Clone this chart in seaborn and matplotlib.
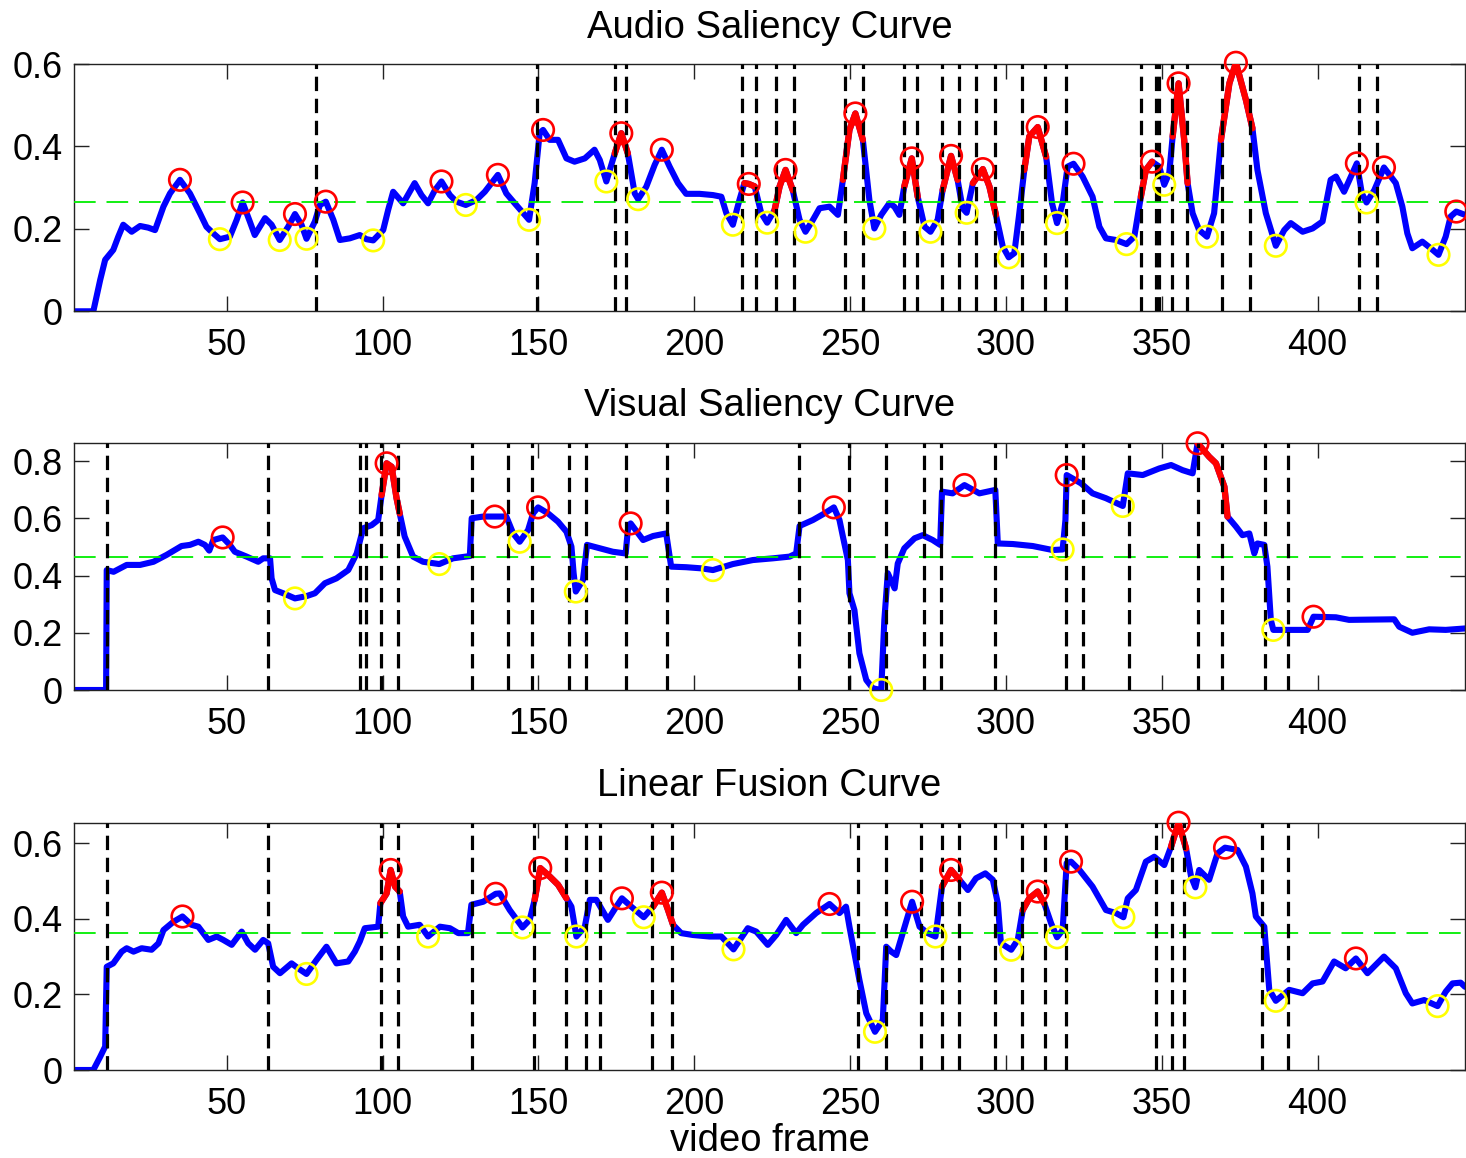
import numpy as np
import pandas as pd
import matplotlib
matplotlib.use("Agg")
import matplotlib.pyplot as plt
import seaborn as sns

# ---------------- data ----------------
titles = ["Audio Saliency Curve", "Visual Saliency Curve", "Linear Fusion Curve"]
xlabel = "video frame"
xticks = [50, 100, 150, 200, 250, 300, 350, 400]

# Audio saliency curve vertices
audio_x = [1, 7.2, 9.4, 11, 13.6, 15.2, 16.8, 19.5, 22.2, 24.8, 27, 29.7, 31.8, 35, 38.2, 41.4, 43.5, 45.7, 47.8,
           51, 53.2, 55.1, 57.4, 59, 62.3, 64.4, 67, 69.7, 71.9, 74, 75.6, 78.3, 79.9, 81.8, 84.2, 86.3, 89.5, 92.7,
           94.8, 97, 100.2, 101.8, 103.4, 106.6, 110.3, 112.5, 114.6, 116.8, 118.9, 121.6, 123.7, 126.7, 130.1, 132.8,
           137, 139.7, 142.4, 147, 148.8, 150.4, 151.5, 153.6, 156.3, 159, 161.6, 164.9, 168, 169.7, 171.8, 174.5,
           176.6, 178.7, 180.9, 182, 184.6, 187.3, 189.6, 192.1, 194.8, 197.4, 201.7, 206, 208.7, 210.3, 212.4, 214.5,
           216.1, 217.5, 219.4, 221.5, 223.4, 225.8, 227.4, 229.3, 231.6, 233.8, 235.7, 238.1, 240.2, 243.4, 246.1,
           247.7, 249.8, 251.7, 254.1, 256.2, 257.8, 260, 262.6, 264.2, 265.8, 267.4, 269.8, 271.7, 273.9, 275.8,
           278.1, 279.7, 282.4, 284.5, 286.1, 287.4, 289.4, 292.6, 294.7, 296.8, 299, 300.9, 302.7, 304.3, 305.9,
           307.5, 310.2, 312.9, 314.8, 316.4, 318.2, 319.8, 321.7, 324.6, 327.8, 330, 332.1, 335.3, 338.7, 341.2,
           343.3, 344.9, 346.9, 349.2, 350.8, 352.4, 353.5, 355.4, 357.2, 358.3, 359.9, 362, 364.5, 366.8, 369,
           371.7, 373.8, 377, 379.1, 380.7, 383.4, 386.6, 389.3, 391.4, 395.2, 398.4, 401.6, 404.2, 405.9, 408.5,
           410.7, 412.6, 414.2, 415.7, 418.2, 421.3, 425.1, 427.2, 428.8, 430.4, 433.6, 436.3, 438.8, 441.1, 442.7,
           444.5, 447.3]
audio_y = [0, 0, 0.076, 0.125, 0.149, 0.181, 0.21, 0.193, 0.207, 0.203, 0.197, 0.254, 0.286, 0.319, 0.286, 0.238,
           0.205, 0.189, 0.175, 0.181, 0.222, 0.264, 0.218, 0.185, 0.226, 0.21, 0.173, 0.205, 0.236, 0.21, 0.176,
           0.218, 0.258, 0.266, 0.222, 0.173, 0.177, 0.185, 0.175, 0.172, 0.197, 0.246, 0.29, 0.262, 0.311, 0.282,
           0.262, 0.294, 0.315, 0.282, 0.266, 0.258, 0.27, 0.29, 0.331, 0.286, 0.262, 0.222, 0.311, 0.432, 0.44,
           0.416, 0.416, 0.371, 0.363, 0.371, 0.392, 0.367, 0.315, 0.383, 0.432, 0.383, 0.286, 0.272, 0.302, 0.355,
           0.392, 0.351, 0.311, 0.285, 0.285, 0.282, 0.278, 0.238, 0.21, 0.27, 0.311, 0.309, 0.303, 0.238, 0.215,
           0.246, 0.303, 0.343, 0.294, 0.222, 0.193, 0.222, 0.25, 0.254, 0.234, 0.319, 0.44, 0.48, 0.416, 0.27,
           0.201, 0.234, 0.262, 0.254, 0.234, 0.303, 0.371, 0.278, 0.205, 0.193, 0.222, 0.294, 0.377, 0.319, 0.25,
           0.239, 0.311, 0.345, 0.303, 0.234, 0.157, 0.131, 0.141, 0.238, 0.343, 0.424, 0.447, 0.375, 0.262, 0.214,
           0.262, 0.351, 0.358, 0.327, 0.278, 0.205, 0.177, 0.173, 0.163, 0.181, 0.278, 0.343, 0.363, 0.351, 0.307,
           0.335, 0.424, 0.553, 0.416, 0.311, 0.238, 0.197, 0.181, 0.238, 0.416, 0.553, 0.603, 0.513, 0.444, 0.343,
           0.238, 0.159, 0.197, 0.214, 0.193, 0.201, 0.218, 0.319, 0.327, 0.29, 0.327, 0.359, 0.286, 0.264, 0.294,
           0.349, 0.311, 0.254, 0.189, 0.153, 0.169, 0.153, 0.137, 0.181, 0.23, 0.242, 0.234]
audio_peak_x = [35, 55.1, 71.9, 81.8, 118.9, 137, 151.5, 176.6, 189.6, 217.5, 229.3, 251.7, 269.8, 282.4, 292.6,
                310.2, 321.7, 346.9, 355.4, 373.8, 412.6, 421.3, 444.5]
audio_peak_y = [0.319, 0.264, 0.236, 0.266, 0.315, 0.331, 0.44, 0.432, 0.392, 0.309, 0.343, 0.48, 0.371, 0.377,
                0.345, 0.447, 0.358, 0.363, 0.553, 0.603, 0.359, 0.349, 0.242]
audio_valley_x = [47.8, 67, 75.6, 97, 126.7, 147, 171.8, 182, 212.4, 223.4, 235.7, 257.8, 275.8, 287.4, 300.9,
                  316.4, 338.7, 350.8, 364.5, 386.6, 415.7, 438.8]
audio_valley_y = [0.175, 0.173, 0.176, 0.172, 0.258, 0.222, 0.315, 0.272, 0.21, 0.215, 0.193, 0.201, 0.193, 0.239,
                  0.131, 0.214, 0.163, 0.307, 0.181, 0.159, 0.264, 0.137]
audio_red_start = [174.5, 216.1, 225.8, 247.7, 267.4, 279.7, 289.4, 305.9, 343.3, 353.5, 369]
audio_red_end = [178.7, 219.4, 231.6, 254.1, 271.7, 284.5, 296.8, 312.9, 347.5, 358.3, 379.1]
audio_shots = [78.8, 149.6, 174.5, 178.2, 215.4, 219.7, 226.3, 231.9, 248.5, 254.3, 267.4, 271.5, 279.4, 284.8,
               290.4, 296.6, 305.2, 312.6, 319.3, 343.3, 348.1, 349.2, 353.3, 358.1, 369.2, 378.3, 413.3, 419.2]
audio_threshold = 0.265

# Visual saliency curve vertices
visual_x = [1, 11.3, 11.5, 13.7, 17.9, 22.2, 26.5, 30.7, 35.5, 38.2, 40.9, 43, 44.4, 45.7, 48.7, 51, 52.6, 56.4,
            60.1, 61.7, 63.9, 64.4, 65.5, 68.1, 71.9, 75.6, 78.3, 81.5, 85.2, 89, 91.7, 93.8, 96.5, 98.6, 99.7,
            101.3, 102.9, 104.5, 105.5, 107.1, 109.8, 113, 118.2, 122.6, 128, 128.6, 132.3, 136, 139.7, 141.9, 144,
            146.7, 148.3, 149.9, 153.1, 156.3, 159, 160.6, 161.3, 162, 164.3, 165.6, 169.7, 173.9, 178, 178.7, 179.6,
            183.6, 186.8, 191, 192.6, 197.4, 202.3, 206, 212.4, 218.8, 225.2, 230.6, 232.7, 233.8, 238.1, 241.8,
            244.8, 246.6, 247.7, 249.3, 249.8, 251.4, 253, 255.2, 257.3, 260, 261, 262.1, 264.3, 265.3, 267.4, 270.7,
            273.3, 276.5, 278.9, 279.5, 282.9, 286.7, 291.5, 296.6, 297.4, 302.2, 308.6, 315, 318.2, 319.1, 319.5,
            324.1, 327.8, 332.1, 337.5, 339.1, 343.9, 349.2, 353, 356.7, 359.9, 361.5, 365.2, 367.4, 370.1, 371.1,
            373.8, 375.9, 378.1, 379.7, 380.7, 382.9, 383.9, 385, 385.8, 389.8, 396.8, 398.7, 405.9, 410.1, 424.6,
            426.2, 430.4, 435.8, 441.1, 447.3]
visual_y = [0, 0, 0.419, 0.413, 0.437, 0.437, 0.448, 0.472, 0.503, 0.507, 0.518, 0.507, 0.487, 0.524, 0.533, 0.507,
            0.483, 0.466, 0.448, 0.46, 0.46, 0.39, 0.349, 0.338, 0.32, 0.328, 0.338, 0.373, 0.39, 0.419, 0.477,
            0.565, 0.576, 0.594, 0.681, 0.792, 0.78, 0.67, 0.617, 0.536, 0.466, 0.448, 0.44, 0.46, 0.468, 0.6, 0.606,
            0.606, 0.606, 0.547, 0.518, 0.559, 0.617, 0.638, 0.617, 0.588, 0.553, 0.501, 0.408, 0.344, 0.384, 0.507,
            0.495, 0.483, 0.477, 0.559, 0.582, 0.524, 0.538, 0.547, 0.431, 0.429, 0.425, 0.419, 0.44, 0.454, 0.46,
            0.466, 0.477, 0.573, 0.594, 0.617, 0.638, 0.594, 0.536, 0.454, 0.338, 0.279, 0.128, 0.035, 0.006, 0.0,
            0.245, 0.408, 0.355, 0.442, 0.495, 0.53, 0.541, 0.524, 0.507, 0.693, 0.687, 0.716, 0.687, 0.699, 0.512,
            0.51, 0.503, 0.489, 0.491, 0.594, 0.751, 0.722, 0.687, 0.67, 0.643, 0.757, 0.751, 0.774, 0.786, 0.768,
            0.757, 0.862, 0.815, 0.792, 0.71, 0.606, 0.571, 0.541, 0.547, 0.477, 0.512, 0.507, 0.431, 0.245, 0.21,
            0.21, 0.21, 0.256, 0.254, 0.245, 0.247, 0.221, 0.2, 0.212, 0.21, 0.215]
visual_peak_x = [48.7, 101.3, 136, 149.9, 179.6, 244.8, 286.7, 319.5, 361.5, 398.7]
visual_peak_y = [0.533, 0.792, 0.606, 0.638, 0.582, 0.638, 0.716, 0.751, 0.862, 0.256]
visual_valley_x = [71.9, 118.2, 144, 162, 206, 260, 318.2, 337.5, 385.8]
visual_valley_y = [0.32, 0.44, 0.518, 0.344, 0.419, 0.0, 0.491, 0.643, 0.21]
visual_red_start = [99.7, 361.5]
visual_red_end = [105.5, 371.1]
visual_shots = [11.5, 63.3, 92.7, 94.6, 99.4, 104.8, 128.8, 140.3, 147.8, 159.7, 165.4, 178.2, 191.4, 233.6, 249.6,
                261.6, 273.6, 279.3, 296.6, 319.3, 324.6, 339.4, 361.5, 369.3, 383.2, 390.4]
visual_threshold = 0.466

# Linear fusion curve vertices
fusion_x = [1, 7.2, 9.4, 11, 11.5, 13.6, 16.3, 17.9, 20.1, 22.7, 25.9, 28.1, 29.7, 32.9, 35.8, 38.7, 40.9, 44.1,
            46.8, 48.9, 51.6, 54.8, 56.9, 59.1, 61.7, 63.3, 64.9, 67.1, 70.8, 72.9, 75.6, 78.8, 82, 85.2, 89, 91.1,
            92.7, 94.3, 98.6, 99.3, 101.3, 102.6, 104, 105.5, 106.6, 108.2, 111.9, 114.6, 118.4, 121.6, 124.3, 127.4,
            128.5, 132.3, 136.3, 137.6, 140.8, 144.9, 147.2, 148.8, 150.6, 153.6, 156.3, 159, 160.6, 162.2, 164.9,
            166.5, 168.6, 172.3, 175, 176.8, 179.8, 183.8, 186.8, 189.6, 191.6, 193.2, 195.8, 199.6, 204.9, 208.7,
            212.6, 217.2, 219.9, 223.6, 226.3, 229.5, 232.7, 234.9, 239.1, 243.4, 246.6, 248.7, 249.8, 251.4, 253,
            255.2, 258, 260.5, 261.6, 263.2, 264.8, 266.9, 269.9, 272.3, 274.9, 277.4, 279.5, 282.4, 285.1, 287.8,
            290.4, 293.4, 295.8, 297.4, 298.4, 301.7, 303.8, 305.4, 307.5, 310.2, 312.3, 314.5, 316.4, 318.2, 319.5,
            320.9, 323.6, 327.8, 332.1, 335.3, 337.7, 339.1, 341.7, 344.9, 347.6, 350.8, 353, 355.4, 357.8, 359.4,
            360.8, 362, 365.2, 367.9, 370.3, 374.3, 377, 379.1, 380.2, 382.9, 384.5, 386.6, 390.9, 395.2, 398.4,
            401.6, 405.3, 409, 412.3, 416, 421.3, 425.1, 428.3, 430.4, 434.2, 438.5, 441.1, 443.3, 445.9, 447.3]
fusion_y = [0, 0, 0.035, 0.062, 0.273, 0.282, 0.313, 0.322, 0.313, 0.322, 0.318, 0.335, 0.37, 0.392, 0.406, 0.384,
            0.379, 0.344, 0.353, 0.344, 0.331, 0.366, 0.335, 0.318, 0.344, 0.335, 0.273, 0.256, 0.282, 0.269, 0.254,
            0.291, 0.326, 0.282, 0.287, 0.313, 0.34, 0.375, 0.379, 0.441, 0.467, 0.529, 0.485, 0.472, 0.406, 0.379,
            0.384, 0.353, 0.379, 0.375, 0.362, 0.362, 0.437, 0.445, 0.466, 0.467, 0.423, 0.377, 0.397, 0.45, 0.534,
            0.512, 0.49, 0.454, 0.432, 0.353, 0.379, 0.45, 0.45, 0.397, 0.432, 0.454, 0.432, 0.404, 0.432, 0.469,
            0.423, 0.384, 0.362, 0.357, 0.353, 0.353, 0.319, 0.375, 0.366, 0.331, 0.357, 0.397, 0.362, 0.384, 0.415,
            0.439, 0.415, 0.432, 0.379, 0.309, 0.238, 0.15, 0.101, 0.132, 0.326, 0.313, 0.304, 0.362, 0.445, 0.379,
            0.362, 0.353, 0.485, 0.529, 0.503, 0.476, 0.507, 0.52, 0.503, 0.441, 0.335, 0.318, 0.344, 0.423, 0.454,
            0.472, 0.441, 0.388, 0.351, 0.37, 0.547, 0.551, 0.529, 0.485, 0.423, 0.415, 0.404, 0.454, 0.476, 0.551,
            0.564, 0.542, 0.591, 0.654, 0.586, 0.512, 0.483, 0.529, 0.503, 0.573, 0.588, 0.582, 0.538, 0.467, 0.406,
            0.379, 0.212, 0.183, 0.212, 0.203, 0.229, 0.234, 0.287, 0.269, 0.295, 0.256, 0.3, 0.269, 0.203, 0.176,
            0.185, 0.169, 0.207, 0.229, 0.231, 0.22]
fusion_peak_x = [35.8, 102.6, 136.3, 150.6, 176.8, 189.6, 243.4, 269.9, 282.4, 310.2, 320.9, 355.4, 370.3, 412.3]
fusion_peak_y = [0.406, 0.529, 0.466, 0.534, 0.454, 0.469, 0.439, 0.445, 0.529, 0.472, 0.551, 0.654, 0.588, 0.295]
fusion_valley_x = [75.6, 114.6, 144.9, 162.2, 183.8, 212.6, 258, 277.4, 301.7, 316.4, 337.7, 360.8, 386.6, 438.5]
fusion_valley_y = [0.254, 0.353, 0.377, 0.353, 0.404, 0.319, 0.101, 0.353, 0.318, 0.351, 0.404, 0.483, 0.183,
                   0.169]
fusion_red_start = [99.3, 148.8, 186.8, 279.5, 305.4, 353]
fusion_red_end = [105.5, 159, 193.2, 285.1, 312.3, 357.8]
fusion_shots = [11.5, 63.3, 99.4, 104.8, 128.8, 148.6, 158.7, 165.4, 169.7, 186.5, 192.9, 252.5, 261.6, 272.6,
                279.4, 284.8, 296.6, 305.2, 312.6, 319.3, 348.1, 353.3, 357, 382.3, 390.4]
fusion_threshold = 0.363

y_ticks = [[0, 0.2, 0.4, 0.6], [0, 0.2, 0.4, 0.6, 0.8], [0, 0.2, 0.4, 0.6]]
y_ticklabels = [["0", "0.2", "0.4", "0.6"], ["0", "0.2", "0.4", "0.6", "0.8"], ["0", "0.2", "0.4", "0.6"]]
y_tops = [0.6, 0.864, 0.654]

# ---------------- style ----------------
sns.set_style("white")
plt.rcParams["font.family"] = ["Liberation Sans", "DejaVu Sans"]
plt.rcParams["text.color"] = "black"
plt.rcParams["xtick.color"] = "black"
plt.rcParams["ytick.color"] = "black"
plt.rcParams["axes.labelcolor"] = "black"

fig = plt.figure(figsize=(14.66, 11.58), dpi=100)
W, H = 1466.0, 1158.0
boxes = [(64.0, 311.3), (442.7, 690.0), (822.7, 1070.0)]
left_px, right_px = 74.0, 1465.0

panels = [
    (audio_x, audio_y, audio_peak_x, audio_peak_y, audio_valley_x, audio_valley_y,
     audio_red_start, audio_red_end, audio_shots, audio_threshold),
    (visual_x, visual_y, visual_peak_x, visual_peak_y, visual_valley_x, visual_valley_y,
     visual_red_start, visual_red_end, visual_shots, visual_threshold),
    (fusion_x, fusion_y, fusion_peak_x, fusion_peak_y, fusion_valley_x, fusion_valley_y,
     fusion_red_start, fusion_red_end, fusion_shots, fusion_threshold),
]

for i, (cx, cy, px, py, vx, vy, rs, re, shots, thr) in enumerate(panels):
    top, bot = boxes[i]
    ax = fig.add_axes([left_px / W, 1 - bot / H, (right_px - left_px) / W, (bot - top) / H])
    df = pd.DataFrame({"frame": cx, "saliency": cy})
    sns.lineplot(data=df, x="frame", y="saliency", ax=ax, color="#0000ff", lw=4.4,
                 sort=False, estimator=None, zorder=2)
    for a, b in zip(rs, re):
        seg = df[(df["frame"] >= a - 1e-6) & (df["frame"] <= b + 1e-6)]
        sns.lineplot(data=seg, x="frame", y="saliency", ax=ax, color="#ff0000", lw=4.6,
                     sort=False, estimator=None, zorder=3)
    ax.axhline(thr, color="#00ee00", lw=1.3, ls=(0, (12, 6)), zorder=4)
    for s in shots:
        ax.axvline(s, color="black", lw=2.3, ls=(0, (4.5, 2.4)), zorder=5)
    sns.scatterplot(x=px, y=py, ax=ax, marker="o", s=240, facecolors="none",
                    edgecolor="#ff0000", linewidth=1.9, zorder=6, clip_on=False)
    sns.scatterplot(x=vx, y=vy, ax=ax, marker="o", s=240, facecolors="none",
                    edgecolor="#ffff00", linewidth=1.9, zorder=6, clip_on=False)

    ax.set_xlim(1, 447.3)
    ax.set_ylim(0, y_tops[i])
    ax.set_xticks(xticks)
    ax.set_xticklabels([str(t) for t in xticks])
    ax.set_yticks(y_ticks[i])
    ax.set_yticklabels(y_ticklabels[i])
    ax.tick_params(axis="both", direction="in", length=11, width=1.0, color="#222222",
                   labelsize=26, labelcolor="black", top=True, right=True, bottom=True, left=True)
    ax.tick_params(axis="x", pad=12)
    ax.tick_params(axis="y", pad=8)
    for sp in ax.spines.values():
        sp.set_visible(True)
        sp.set_color("#222222")
        sp.set_linewidth(1.0)
    ax.set_xlabel("")
    ax.set_ylabel("")
    ax.set_title(titles[i], fontsize=27.5, pad=19, color="black")

ax.set_xlabel(xlabel, fontsize=27.5, labelpad=1, color="black")

fig.savefig("out.png", dpi=100, facecolor="white")
